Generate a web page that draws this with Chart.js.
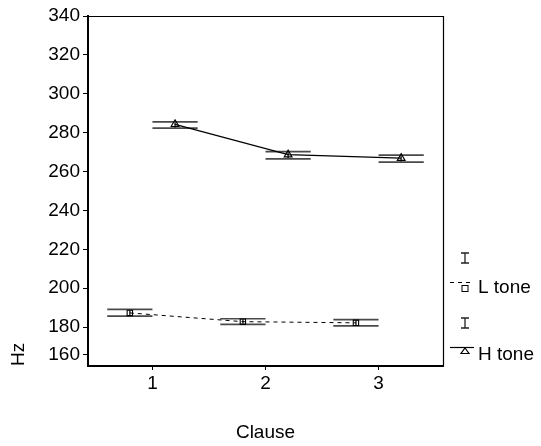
<!DOCTYPE html>
<html><head><meta charset="utf-8">
<script src="https://cdn.jsdelivr.net/npm/chart.js@4/dist/chart.umd.min.js"></script>
<style>html,body{margin:0;padding:0;background:#fff;} #wrap{width:541px;height:446px;position:relative;}</style>
</head><body><div id="wrap"><canvas id="c" width="541" height="446"></canvas></div>
<script>
// ---- data ----
const clauses = [1, 2, 3];
const xTickLabels = ['1', '2', '3'];
const seriesNames = ['L tone', 'H tone'];
const lMean = [187.3, 182.8, 182.2];
const lLow  = [185.7, 181.4, 180.6];
const lHigh = [189.1, 184.3, 183.8];
const hMean = [284.3, 268.7, 266.9];
const hLow  = [282.3, 266.5, 264.8];
const hHigh = [285.6, 270.2, 268.4];
const yTickLabels = ['160', '180', '200', '220', '240', '260', '280', '300', '320', '340'];
const xTitle = 'Clause';
const yTitle = 'Hz';

// ---- styling / layout ----
const FONT = "'Liberation Sans', Arial, sans-serif";
const FS = 19;
const L_OFF = -0.2, H_OFF = 0.2, CAP = 0.2;
const BOTTOM_LABEL_LIFT = 5.7; // reference draws its lowest label above the axis floor

const series = [
  {name: seriesNames[0], off: L_OFF, mean: lMean, lo: lLow, hi: lHigh},
  {name: seriesNames[1], off: H_OFF, mean: hMean, lo: hLow, hi: hHigh}
];

const errorBars = {
  id: 'errorBars',
  beforeDatasetsDraw(chart) {
    const ctx = chart.ctx, xs = chart.scales.x, ys = chart.scales.y;
    ctx.save();
    ctx.strokeStyle = '#4a4a4a';
    ctx.lineWidth = 1.7;
    series.forEach(s => {
      clauses.forEach((c, i) => {
        const xc = xs.getPixelForValue(c + s.off);
        const xl = xs.getPixelForValue(c + s.off - CAP);
        const xr = xs.getPixelForValue(c + s.off + CAP);
        const yh = ys.getPixelForValue(s.hi[i]);
        const yl = ys.getPixelForValue(s.lo[i]);
        ctx.beginPath();
        ctx.moveTo(xl, yh); ctx.lineTo(xr, yh);
        ctx.moveTo(xl, yl); ctx.lineTo(xr, yl);
        ctx.moveTo(xc, yh); ctx.lineTo(xc, yl);
        ctx.stroke();
      });
    });
    ctx.restore();
  }
};

const frame = {
  id: 'frame',
  afterDraw(chart) {
    const {ctx, chartArea: a} = chart;
    ctx.save();
    ctx.strokeStyle = '#000';
    ctx.lineWidth = 1.2;
    ctx.beginPath();
    ctx.moveTo(a.left, a.top + 0.5); ctx.lineTo(a.right + 0.5, a.top + 0.5);
    ctx.lineTo(a.right + 0.5, a.bottom);
    ctx.stroke();
    ctx.restore();
  }
};

const legendBox = {
  id: 'legendBox',
  afterDraw(chart) {
    const {ctx, chartArea: a} = chart;
    const R = a.right;
    const cx = R + 22;
    ctx.save();
    // error bar symbols
    ctx.strokeStyle = '#222';
    ctx.lineWidth = 1.3;
    [[253, 263], [318, 328]].forEach(([t, b]) => {
      ctx.beginPath();
      ctx.moveTo(cx - 4, t); ctx.lineTo(cx + 4, t);
      ctx.moveTo(cx, t); ctx.lineTo(cx, b);
      ctx.moveTo(cx - 4, b); ctx.lineTo(cx + 4, b);
      ctx.stroke();
    });
    // L tone symbol
    ctx.strokeStyle = '#000';
    ctx.lineWidth = 1;
    ctx.setLineDash([4, 4]);
    ctx.beginPath();
    ctx.moveTo(R + 7, 282.5); ctx.lineTo(R + 31, 282.5);
    ctx.stroke();
    ctx.setLineDash([]);
    ctx.strokeRect(cx - 3, 285.5, 6, 6);
    // H tone symbol
    ctx.lineWidth = 1.2;
    ctx.beginPath();
    ctx.moveTo(R + 7, 347.5); ctx.lineTo(R + 31, 347.5);
    ctx.stroke();
    ctx.beginPath();
    ctx.moveTo(cx, 348); ctx.lineTo(cx + 4, 353.5); ctx.lineTo(cx - 4, 353.5); ctx.closePath();
    ctx.stroke();
    // texts
    ctx.fillStyle = '#000';
    ctx.font = FS + 'px ' + FONT;
    ctx.textBaseline = 'middle';
    ctx.textAlign = 'left';
    ctx.fillText(seriesNames[0], R + 35, 288);
    ctx.fillText(seriesNames[1], R + 35, 355);
    ctx.restore();
  }
};

const yTickValues = yTickLabels.map(Number);
const yMin = yTickValues[0], yMax = yTickValues[yTickValues.length - 1];

new Chart(document.getElementById('c'), {
  type: 'scatter',
  data: {
    datasets: series.map((s, k) => ({
      label: s.name,
      type: 'line',
      data: clauses.map((c, i) => ({x: c + s.off, y: s.mean[i]})),
      borderColor: '#000',
      borderWidth: k === 0 ? 1 : 1.3,
      borderDash: k === 0 ? [4, 4] : [],
      fill: false,
      tension: 0,
      pointStyle: k === 0 ? 'rect' : 'triangle',
      pointRadius: k === 0 ? 3.8 : 4.5,
      pointBorderColor: '#000',
      pointBackgroundColor: 'rgba(0,0,0,0)',
      pointBorderWidth: 1.1,
      showLine: true
    }))
  },
  options: {
    responsive: false,
    devicePixelRatio: 1,
    animation: false,
    layout: {padding: {top: 16, right: 98, left: 0, bottom: 0}},
    plugins: {legend: {display: false}, tooltip: {enabled: false}},
    scales: {
      x: {
        type: 'linear',
        min: 0.43, max: 3.57,
        afterBuildTicks: sc => { sc.ticks = clauses.map(v => ({value: v})); },
        afterFit: sc => { sc.height = 80; },
        ticks: {
          color: '#000', font: {family: FONT, size: FS}, padding: 2,
          callback: (v) => xTickLabels[clauses.indexOf(v)]
        },
        grid: {drawOnChartArea: false, drawTicks: true, tickLength: 4, color: '#000', lineWidth: 1},
        border: {display: true, color: '#000', width: 2},
        title: {display: true, text: xTitle, color: '#000', font: {family: FONT, size: FS}, padding: {top: 0, bottom: 2}}
      },
      y: {
        type: 'linear',
        min: yMin, max: yMax,
        afterBuildTicks: sc => {
          sc.ticks = yTickValues.map((v, i) => ({value: i === 0 ? v + BOTTOM_LABEL_LIFT : v}));
        },
        afterFit: sc => { sc.width = 88; },
        ticks: {
          color: '#000', font: {family: FONT, size: FS}, padding: 3,
          callback: (v, i) => yTickLabels[i]
        },
        grid: {drawOnChartArea: false, drawTicks: true, tickLength: 5, color: '#000', lineWidth: 1},
        border: {display: true, color: '#000', width: 2},
        title: {display: true, text: yTitle, align: 'start', color: '#000', font: {family: FONT, size: FS}, padding: {top: 7, bottom: 0}}
      }
    }
  },
  plugins: [errorBars, frame, legendBox]
});
</script>
</body></html>
